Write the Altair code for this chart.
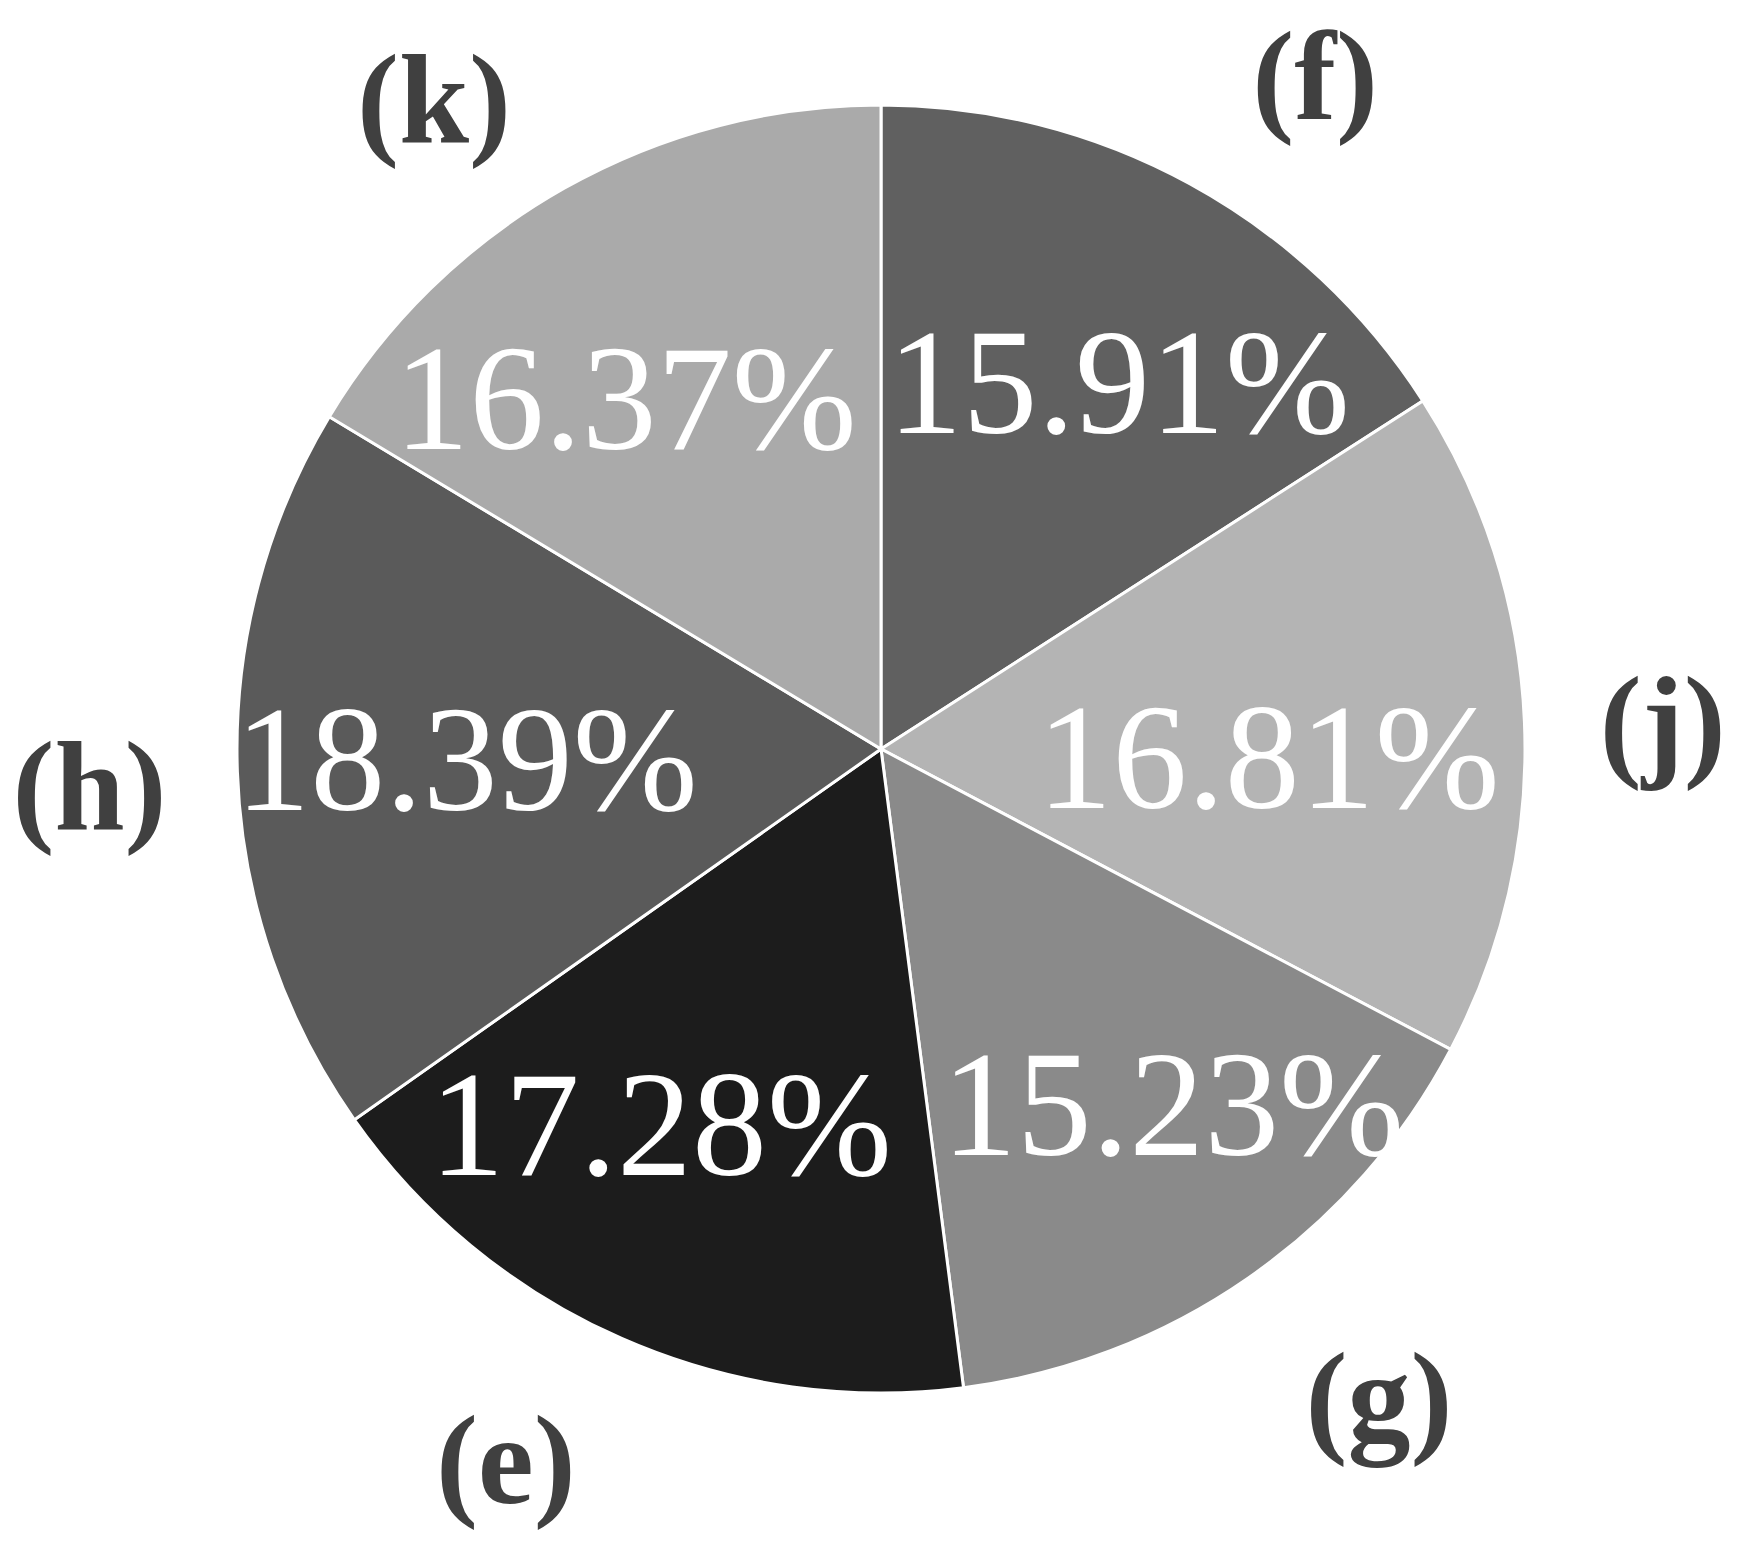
import altair as alt
import pandas as pd

categories = ["(f)", "(j)", "(g)", "(e)", "(h)", "(k)"]
values = [15.91, 16.81, 15.23, 17.28, 18.39, 16.37]
colors = ["#606060", "#b4b4b4", "#8a8a8a", "#1c1c1c", "#5a5a5a", "#aaaaaa"]

# label layout: angular nudge (degrees) from each slice's mid-angle and radial distance (px)
pct_nudge_deg = [5.1, 5.2, -3.8, 6.0, -0.9, -7.5]
pct_radius = [428, 388, 468, 444, 415, 425]
cat_nudge_deg = [4.6, 1.2, -2.3, 3.7, -1.4, -5.5]
cat_radius = [792, 782, 826, 814, 793, 780]

df = pd.DataFrame({
    "cat": categories,
    "value": values,
    "idx": list(range(len(categories))),
    "pn": pct_nudge_deg,
    "pr": pct_radius,
    "cn": cat_nudge_deg,
    "cr": cat_radius,
})

cx, cy = 873, 741
serif = "Liberation Serif"

pie = alt.Chart(df).mark_arc(outerRadius=644, stroke="white", strokeWidth=3).encode(
    theta=alt.Theta("value:Q", stack=True),
    order=alt.Order("idx:Q"),
    color=alt.Color("cat:N", scale=alt.Scale(domain=categories, range=colors), legend=None),
    x=alt.value(cx),
    y=alt.value(cy),
)

lab = alt.Chart(df).transform_window(
    cum="sum(value)", sort=[alt.SortField("idx")], frame=[None, 0]
).transform_joinaggregate(
    total="sum(value)"
).transform_calculate(
    mid="(datum.cum - datum.value / 2) / datum.total * 2 * PI",
    pa="datum.mid + datum.pn * PI / 180",
    ca="datum.mid + datum.cn * PI / 180",
    lbl="format(datum.value, '.2f') + '%'",
)

pct = lab.mark_text(
    font=serif, fontSize=150, color="white", align="center", baseline="middle", dy=-5
).encode(
    theta=alt.Theta("pa:Q", scale=None, stack=False),
    radius=alt.Radius("pr:Q", scale=None),
    x=alt.value(cx),
    y=alt.value(cy),
    text="lbl:N",
)

outer = lab.mark_text(
    font=serif, fontSize=126, fontWeight="bold", color="#404040",
    align="center", baseline="middle", dy=-6
).encode(
    theta=alt.Theta("ca:Q", scale=None, stack=False),
    radius=alt.Radius("cr:Q", scale=None),
    x=alt.value(cx),
    y=alt.value(cy),
    text="cat:N",
)

chart = (pie + pct + outer).properties(
    width=1734, height=1530, padding=0,
    autosize=alt.AutoSizeParams(type="none"),
).configure_view(stroke=None)

chart.save("out.html", embed_options={"renderer": "svg", "actions": False})
